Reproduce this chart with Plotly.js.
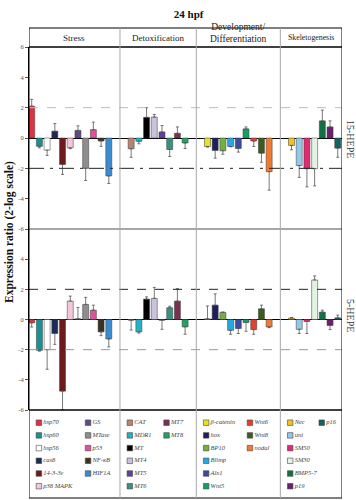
<!DOCTYPE html>
<html><head><meta charset="utf-8">
<script src="https://cdn.plot.ly/plotly-3.0.1.min.js"></script>
<style>html,body{margin:0;padding:0;background:#fff}#chart{width:356px;height:500px}</style>
</head><body><div id="chart"></div>
<script>
// ---- data ----
const groupNames = ["Stress", "Detoxification", "Development/<br>Differentiation", "Skeletogenesis"];

const stressGenes = ["hsp70","hsp60","hsp56","cas8","14-3-3ε","p38 MAPK","GS","MTase","p53","NF-κB","HIF1A"];
const detoxGenes  = ["CAT","MDR1","MT","MT4","MT5","MT6","MT7","MT8"];
const devGenes    = ["β-catenin","hox","BP10","Blimp","Alx1","Wnt5","Wnt6","Wnt8","nodal"];
const skelGenes   = ["Nec","uni","SM50","SM30","BMP5-7","p19","p16"];

const stressColors = ["#e0313f","#1b8f92","#ffffff","#1d2a58","#6e1a1c","#f3c6d9","#5f4b8b","#8e8e8e","#e0509b","#3b3322","#3a8bd1"];
const detoxColors  = ["#b98272","#22b3c3","#000000","#c9c1dd","#5f3fa0","#3b9181","#7a3150","#1fa262"];
const devColors    = ["#e9e222","#1f1f5e","#72b043","#22a9e0","#3a4ba0","#12a163","#e0412f","#3b5b21","#f07a31"];
const skelColors   = ["#f0c122","#92c9e8","#e02a71","#e3f2e2","#117142","#6b2170","#116262"];

// 15-HEPE (upper panel)
const hepe15Stress    = [2.1,-0.55,-0.8,0.45,-1.75,-0.65,0.5,-2.0,0.55,-0.2,-2.5];
const hepe15StressErr = [0.45,0.1,0.35,0.5,0.65,0.05,0.3,0.8,0.5,0.35,0.5];
const hepe15Detox     = [-0.71,-0.22,1.36,1.38,0.4,-0.76,0.31,-0.33];
const hepe15DetoxErr  = [0.56,0.16,0.64,0.17,0.42,0.46,0.42,0.36];
const hepe15Dev       = [-0.56,-0.82,-0.84,-0.56,-0.69,0.6,-0.2,-1.0,-2.22];
const hepe15DevErr    = [0.04,0.51,0.23,0.02,0.24,0.13,0.36,0.6,1.22];
const hepe15Skel      = [-0.49,-1.82,-2.02,-2.02,1.13,0.73,-0.67];
const hepe15SkelErr   = [0.29,0.78,1.2,1.14,0.71,0.4,0.6];

// 5-HEPE (lower panel)
const hepe5Stress    = [-0.22,-2.05,-2.0,-0.93,-4.75,1.22,0.05,1.0,0.62,-0.82,-1.29];
const hepe5StressErr = [0.28,0.05,1.3,0.72,1.25,0.33,0.75,0.47,0.33,0.25,0.53];
const hepe5Detox     = [-0.05,-0.82,1.35,1.4,-0.05,0.78,1.22,-0.49];
const hepe5DetoxErr  = [0.65,0.08,0.15,0.73,0.6,0.1,0.83,0.49];
const hepe5Dev       = [0.05,0.95,0.47,-0.72,-0.6,-0.2,-0.67,0.71,-0.49];
const hepe5DevErr    = [0.85,0.75,0.03,0.26,0.33,0.58,0.31,0.24,0.05];
const hepe5Skel      = [0.1,-0.65,-0.13,2.62,0.49,-0.4,0.11];
const hepe5SkelErr   = [0.03,0.28,0.8,0.27,0.13,0.27,0.18];

const yTicks = [-6,-4,-2,0,2,4,6];
const yTickText = ["-6","-4","-2","0","2","4","6"];

// ---- build ----
(function(){
const geneSets  = [stressGenes, detoxGenes, devGenes, skelGenes];
const colorSets = [stressColors, detoxColors, devColors, skelColors];
const genes  = [].concat(...geneSets);
const colors = [].concat(...colorSets);
const upVals = [].concat(hepe15Stress, hepe15Detox, hepe15Dev, hepe15Skel);
const upErr  = [].concat(hepe15StressErr, hepe15DetoxErr, hepe15DevErr, hepe15SkelErr);
const loVals = [].concat(hepe5Stress, hepe5Detox, hepe5Dev, hepe5Skel);
const loErr  = [].concat(hepe5StressErr, hepe5DetoxErr, hepe5DevErr, hepe5SkelErr);

const LEAD = 0.35, PAD = 1.45, TAIL = 0.55;
const xPos = []; const bounds = [0];
geneSets.forEach((g, k) => {
  const start = k === 0 ? LEAD : bounds[k] + PAD;
  g.forEach((_, i) => xPos.push(start + i));
  const last = start + g.length - 1;
  bounds.push(k < geneSets.length - 1 ? last + PAD : last + TAIL);
});
const XMAX = bounds[bounds.length - 1];

function errUp(v, e){ return v.map((d,i)=> d >= 0 ? e[i] : 0); }
function errDn(v, e){ return v.map((d,i)=> d < 0 ? e[i] : 0); }

function barTrace(vals, errs, xa, ya){
  return {
    type: 'bar', x: xPos, y: vals, xaxis: xa, yaxis: ya, width: 0.78,
    marker: {color: colors, line: {color: '#3a3a3a', width: 0.5}},
    error_y: {type: 'data', symmetric: false, array: errUp(vals, errs), arrayminus: errDn(vals, errs),
              color: '#555', thickness: 0.8, width: 1.5},
    showlegend: false, hoverinfo: 'x+y'
  };
}

// legend grid (6 rows per column)
const COL2 = [7.66, 6.04, 6.96, 5.37], COL1 = 1.28;
const lx = [], ly = [];
geneSets.forEach((g, k) => {
  g.forEach((_, i) => {
    const col = Math.floor(i / 6), row = i % 6;
    lx.push(bounds[k] + (col === 0 ? COL1 : COL2[k]));
    ly.push(row + 1);
  });
});
const legendTrace = {
  type: 'scatter', mode: 'markers+text', x: lx, y: ly, xaxis: 'x3', yaxis: 'y3',
  text: genes.map(g => '<i>' + g + '</i>'), textposition: 'middle right',
  textfont: {family: 'Liberation Serif', size: 6.5, color: '#444'},
  marker: {symbol: 'square', size: 5.5, color: colors, line: {color: '#444', width: 0.6}},
  showlegend: false, hoverinfo: 'skip', cliponaxis: false
};

const H = 470, B = 2;
const pf = px => (500 - B - px) / H;
const dTop = [pf(229), pf(47)], dBot = [pf(410), pf(229)], dLeg = [0, pf(410)];

const tickFont = {family: 'Liberation Serif', size: 6.5, color: '#555'};
function yax(domain, anchor, vals, text){
  return {domain: domain, anchor: anchor, range: [-6, 6], tickmode: 'array', tickvals: vals, ticktext: text,
    ticks: 'outside', ticklen: 3, tickcolor: '#555', tickfont: tickFont, showgrid: false,
    zeroline: true, zerolinecolor: '#000', zerolinewidth: 1, showline: true, linecolor: '#000', linewidth: 1, fixedrange: true};
}
function xax(anchor){
  return {domain: [0,1], anchor: anchor, range: [0, XMAX], showticklabels: false, ticks: '', showgrid: false, zeroline: false, showline: false, fixedrange: true};
}

const shapes = [];
function hline(y, yref, color, width, dash){
  shapes.push({type: 'line', xref: 'x', x0: 0, x1: XMAX, yref: yref, y0: y, y1: y, line: {color: color, width: width, dash: dash || 'solid'}});
}
hline(2, 'y', '#bdbdbd', 1, 'dash');
hline(-2, 'y', '#222', 1, 'longdashdot');
hline(2, 'y2', '#222', 1, 'dash');
hline(-2, 'y2', '#9a9a9a', 1, 'dash');
hline(1, 'paper', '#000', 1);
hline(pf(47), 'paper', '#000', 1.6);
hline(pf(229), 'paper', '#8a8a8a', 1.6);
hline(pf(410), 'paper', '#000', 1.6);
hline(0, 'paper', '#000', 1);
for (let k = 1; k < bounds.length - 1; k++) {
  shapes.push({type: 'line', xref: 'x', x0: bounds[k], x1: bounds[k], yref: 'paper', y0: 0, y1: 1, line: {color: '#a8a8a8', width: 1}});
}
shapes.push({type: 'line', xref: 'x', x0: 0, x1: 0, yref: 'paper', y0: 0, y1: 1, line: {color: '#000', width: 1}});
shapes.push({type: 'line', xref: 'x', x0: XMAX, x1: XMAX, yref: 'paper', y0: 0, y1: 1, line: {color: '#000', width: 1}});

const annotations = [];
groupNames.forEach((g, k) => {
  annotations.push({xref: 'x', yref: 'paper', x: (bounds[k] + bounds[k+1]) / 2, y: pf(k === 2 ? 33 : 37.5),
    text: g, showarrow: false, xanchor: 'center', yanchor: 'middle',
    font: {family: 'Liberation Serif', size: k === 3 ? 7.8 : (k === 2 ? 9.5 : 9), color: '#222'}});
});
annotations.push({xref: 'paper', yref: 'paper', x: (10 - 29) / 313, y: pf(232), text: '<b>Expression ratio (2-log scale)</b>',
  textangle: -90, showarrow: false, xanchor: 'center', yanchor: 'middle', font: {family: 'Liberation Serif', size: 11.5, color: '#111'}});
annotations.push({xref: 'paper', yref: 'paper', x: (350 - 29) / 313, y: pf(139), text: '15-HEPE',
  textangle: 90, showarrow: false, xanchor: 'center', yanchor: 'middle', font: {family: 'Liberation Serif', size: 10, color: '#333'}});
annotations.push({xref: 'paper', yref: 'paper', x: (350 - 29) / 313, y: pf(315), text: '5-HEPE',
  textangle: 90, showarrow: false, xanchor: 'center', yanchor: 'middle', font: {family: 'Liberation Serif', size: 10, color: '#333'}});

const layout = {
  width: 356, height: 500, margin: {l: 29, r: 14, t: 28, b: B},
  paper_bgcolor: '#fff', plot_bgcolor: '#fff', showlegend: false, bargap: 0,
  title: {text: '<b>24 hpf</b>', x: 0.53, xanchor: 'center', y: 1 - 14 / 500, yanchor: 'middle', yref: 'container',
          font: {family: 'Liberation Serif', size: 11, color: '#111'}},
  xaxis: xax('y'), yaxis: yax(dTop, 'x', yTicks, yTickText),
  xaxis2: xax('y2'), yaxis2: yax(dBot, 'x2', yTicks.slice(0, 6), yTickText.slice(0, 6)),
  xaxis3: {domain: [0,1], anchor: 'y3', range: [0, XMAX], visible: false, fixedrange: true},
  yaxis3: {domain: dLeg, anchor: 'x3', range: [88/12.7, 0], visible: false, fixedrange: true},
  shapes: shapes, annotations: annotations
};

Plotly.newPlot('chart', [barTrace(upVals, upErr, 'x', 'y'), barTrace(loVals, loErr, 'x2', 'y2'), legendTrace], layout,
  {displayModeBar: false, staticPlot: true});
})();
</script></body></html>
